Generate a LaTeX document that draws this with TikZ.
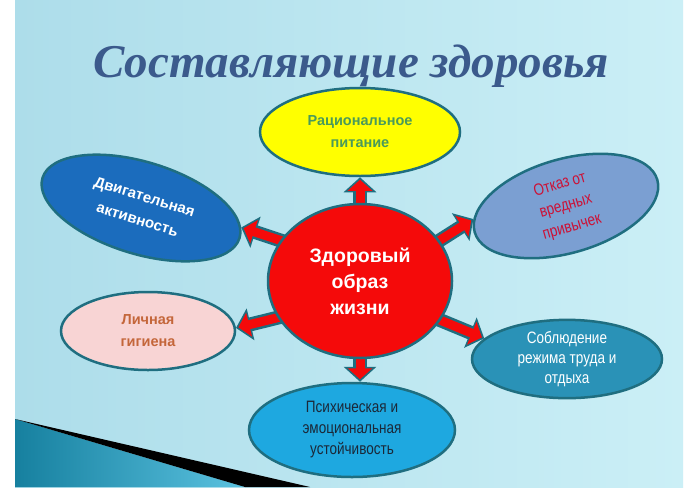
\documentclass[tikz,border=0pt]{standalone}
\usepackage{fontspec}
\setmainfont{Liberation Serif}
\newfontfamily\lsans{Liberation Sans}
\newfontfamily\lnarrow[FakeStretch=0.82]{Liberation Sans}
\usetikzlibrary{shapes.geometric,arrows.meta}
\pgfdeclarelayer{bg}
\pgfdeclarelayer{arr}
\pgfsetlayers{bg,arr,main}
\definecolor{bgl}{HTML}{ADDDEA}
\definecolor{bgr}{HTML}{CBEFF6}
\definecolor{tealA}{HTML}{16809F}
\definecolor{tealB}{HTML}{5BC2E0}
\definecolor{bord}{HTML}{1F6E80}
\definecolor{titleblue}{HTML}{3B5A8C}
\definecolor{arrred}{HTML}{F50A0A}
\definecolor{yel}{HTML}{FFFF00}
\definecolor{yeltxt}{HTML}{4A9A5A}
\definecolor{blu}{HTML}{1B6CBD}
\definecolor{steel}{HTML}{7B9FD2}
\definecolor{crim}{HTML}{CC1136}
\definecolor{pinkf}{HTML}{F8D4D4}
\definecolor{pinktxt}{HTML}{C4663A}
\definecolor{tealf}{HTML}{2A92B7}
\definecolor{skyf}{HTML}{1EA8E0}
\definecolor{darktxt}{HTML}{1B2838}
\tikzset{
  bubble/.style={ellipse, draw=bord, line width=2.5pt, inner sep=0pt, align=center},
  blk/.style={line width=9pt, draw=arrred, shorten >=2.5pt, shorten <=-8pt,
    -{Triangle[width=24pt,length=11pt]},
    preaction={draw=bord, line width=14pt, shorten >=0pt, shorten <=-8pt,
      -{Triangle[width=32pt,length=15pt]}}}
}
\begin{document}
\begin{tikzpicture}[x=1pt,y=-1pt]
\useasboundingbox (0,0) rectangle (700,496);
\begin{pgfonlayer}{bg}
\fill[white] (0,0) rectangle (700,496);
\shade[left color=bgl, right color=bgr] (15,0) rectangle (683,487);
\shade[left color=tealA, right color=tealB] (15,419) -- (245,487) -- (15,487) -- cycle;
\fill[black] (15,419) -- (310,487) -- (245,487) -- cycle;
\end{pgfonlayer}

% title
\node[anchor=base, text=titleblue, font=\fontsize{47}{47}\selectfont\bfseries\itshape] (title) at (351,77) {Составляющие здоровья};

% nodes
\node[bubble, fill=arrred, minimum width=184pt, minimum height=154pt, text=white,
  font=\lsans\bfseries\fontsize{19.5}{26}\selectfont] (c) at (360,281) {Здоровый\\образ\\жизни};
\node[bubble, fill=yel, minimum width=200pt, minimum height=88pt, text=yeltxt,
  font=\lsans\bfseries\fontsize{14.5}{22}\selectfont] (top) at (360,132) {Рациональное\\питание};
\node[bubble, fill=blu, minimum width=206pt, minimum height=92pt, rotate=-17, text=white,
  font=\lsans\bfseries\fontsize{15}{24}\selectfont] (tl) at (141,208) {Двигательная\\активность};
\node[bubble, fill=steel, minimum width=190pt, minimum height=94pt, rotate=16, text=crim,
  font=\lnarrow\fontsize{16.5}{22}\selectfont] (tr) at (566,206) {Отказ от\\вредных\\привычек};
\node[bubble, fill=pinkf, minimum width=174pt, minimum height=78pt, text=pinktxt,
  font=\lsans\bfseries\fontsize{14.5}{22}\selectfont] (ll) at (148,331) {Личная\\гигиена};
\node[bubble, fill=tealf, minimum width=190pt, minimum height=78pt, text=white,
  font=\lnarrow\fontsize{16.5}{20}\selectfont] (lr) at (567,359) {Соблюдение\\режима труда и\\отдыха};
\node[bubble, fill=skyf, minimum width=206pt, minimum height=94pt, text=darktxt,
  font=\lnarrow\fontsize{16.5}{21}\selectfont] (bot) at (352,430) {Психическая и\\эмоциональная\\устойчивость};

% arrows
\begin{pgfonlayer}{arr}
\draw[blk] (c.north) -- (top.south);
\draw[blk] (c.south) -- (c.south |- bot.north);
\draw[blk] (c.153) -- (tl.6);
\draw[blk] (c.27) -- (tr.172);
\draw[blk] (c.204) -- (ll.2);
\draw[blk] (c.334) -- (lr.166);
\end{pgfonlayer}
\end{tikzpicture}
\end{document}
